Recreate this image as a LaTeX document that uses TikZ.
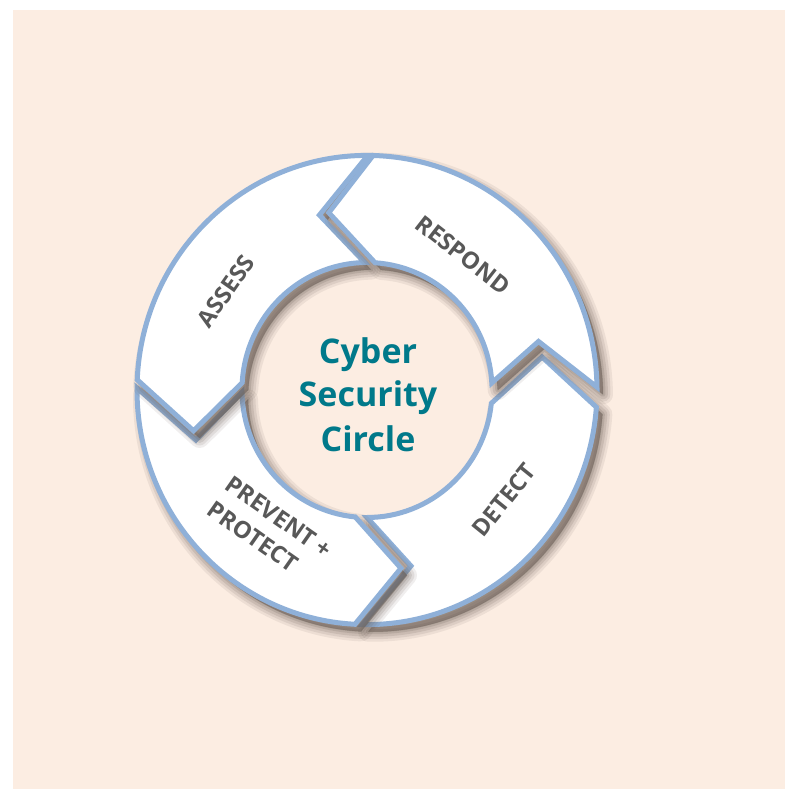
\documentclass[tikz,border=0pt]{standalone}
\usepackage{fontspec}
\setmainfont{Open Sans}
\definecolor{bgpeach}{RGB}{252,237,226}
\definecolor{ringblue}{RGB}{143,176,216}
\definecolor{titleteal}{RGB}{0,121,138}
\definecolor{labelgray}{RGB}{88,88,88}
\definecolor{shadowc}{RGB}{110,98,90}
\newcommand\Ro{230}
\newcommand\Ri{125}
\newcommand\Rm{178}
% #1 options, #2 start outer, #3 start inner, #4 notch, #5 end outer, #6 end inner, #7 tip
\newcommand\ringseg[7]{%
  \path[#1] (#2:\Ro) arc[start angle=#2, end angle=#5, radius=\Ro] -- (#7:\Rm)
    -- (#6:\Ri) arc[start angle=#6, end angle=#3, radius=\Ri] -- (#4:\Rm) -- cycle;}
\newcommand\shadowseg[6]{%
  \foreach \w/\o in {20/0.10,15/0.13,10/0.16,5/0.2,1/0.25}{%
    \ringseg{fill=shadowc, draw=shadowc, line width=\w, line join=round, opacity=\o, shift={(6,-7)}}{#1}{#2}{#3}{#4}{#5}{#6}}}
\tikzset{
  segbox/.style={fill=white, draw=ringblue, line width=5, line join=miter},
  titletext/.style={font=\bfseries\fontsize{34}{44}\selectfont, text=titleteal, inner sep=0},
  labeltext/.style={font=\bfseries\fontsize{23.5}{31}\selectfont, text=labelgray, inner sep=0}
}
\begin{document}
\begin{tikzpicture}[x=1pt,y=1pt]
\useasboundingbox (-367,-399) rectangle (418,390);
\fill[white] (-367,-399) rectangle (418,390);
\fill[bgpeach] (-354,-399) rectangle (418,380);
\begin{scope}[yscale=1.02]
  % DETECT
  \shadowseg{268.8}{270}{284.3}{355.8}{354}{370.5}
  \ringseg{segbox}{268.8}{270}{284.3}{355.8}{354}{370.5}
  % PREVENT + PROTECT
  \shadowseg{179.5}{181}{196}{267}{264.6}{281}
  \ringseg{segbox}{179.5}{181}{196}{267}{264.6}{281}
  % ASSESS
  \shadowseg{89.8}{91}{105.5}{177.5}{176.7}{193}
  \ringseg{segbox}{89.8}{91}{105.5}{177.5}{176.7}{193}
  % RESPOND
  \shadowseg{0.7}{3.2}{15.5}{88.5}{86.3}{102.4}
  \ringseg{segbox}{0.7}{3.2}{15.5}{88.5}{86.3}{102.4}
\end{scope}
\node[titletext, anchor=base] (t1) at (1,26) {Cyber};
\node[titletext, anchor=base] (t2) at (1,-17) {Security};
\node[titletext, anchor=base] (t3) at (1,-61) {Circle};
\node[labeltext, rotate=55] (assess) at (-141,99) {ASSESS};
\node[labeltext, rotate=-38] (respond) at (96,135) {RESPOND};
\node[labeltext, rotate=51] (detect) at (137,-110) {DETECT};
\node[labeltext, rotate=-35, align=left] (prevent) at (-97,-140) {PREVENT +\\PROTECT};
\end{tikzpicture}
\end{document}
